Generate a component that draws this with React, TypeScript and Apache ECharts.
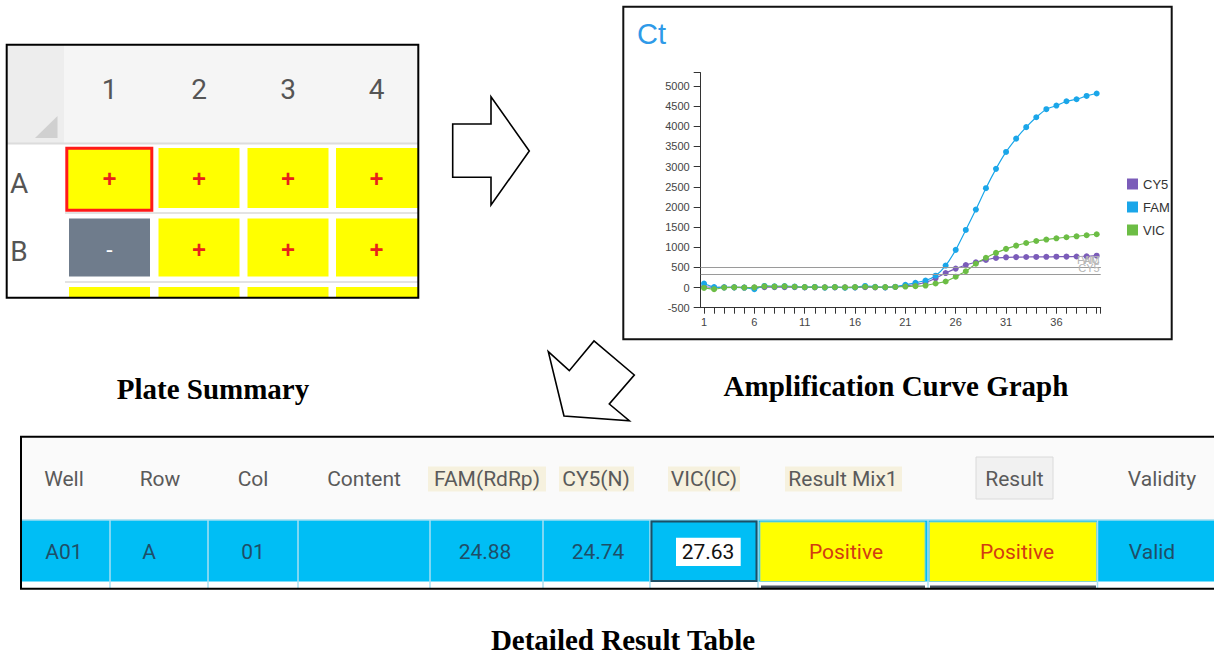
import React, { useEffect, useRef } from "react";
import * as echarts from "echarts";

// ---------- data ----------
const cycles = [1, 2, 3, 4, 5, 6, 7, 8, 9, 10, 11, 12, 13, 14, 15, 16, 17, 18, 19, 20, 21, 22, 23, 24, 25, 26, 27, 28, 29, 30, 31, 32, 33, 34, 35, 36, 37, 38, 39, 40];
const cy5 = [20, 0, 5, 5, 0, 0, 10, 10, 10, 10, 5, 5, 5, 5, 5, 5, 10, 5, 5, 15, 40, 75, 125, 230, 360, 470, 560, 628, 685, 735, 750, 755, 758, 760, 762, 765, 768, 770, 775, 790];
const fam = [100, 10, 5, 5, 0, -40, 40, 30, 35, 25, 10, 15, 0, 10, -5, 5, 40, 20, 5, 20, 70, 118, 175, 295, 545, 935, 1430, 1935, 2465, 2945, 3365, 3695, 3980, 4225, 4425, 4515, 4622, 4672, 4755, 4815];
const vic = [-10, -40, 0, 5, 0, 5, 30, 25, 30, 20, 10, 10, 5, 10, 5, 10, 20, 10, 10, 15, 25, 35, 50, 100, 150, 270, 405, 590, 740, 860, 960, 1040, 1105, 1155, 1190, 1222, 1248, 1272, 1298, 1322];
const seriesNames = ["CY5", "FAM", "VIC"];
const seriesColors = ["#7b5cb9", "#1aa6e9", "#6cbd45"];
const thresholds = [320, 510, 510];
const xLabelValues = [1, 6, 11, 16, 21, 26, 31, 36];
const yLabelValues = [-500, 0, 500, 1000, 1500, 2000, 2500, 3000, 3500, 4000, 4500, 5000];

const plateCols = ["1", "2", "3", "4"];
const plateRows = ["A", "B", "C"];
const plateCalls = [
  ["+", "+", "+", "+"],
  ["-", "+", "+", "+"],
  ["+", "+", "+", "+"],
];

const tableHeaders = ["Well", "Row", "Col", "Content", "FAM(RdRp)", "CY5(N)", "VIC(IC)", "Result Mix1", "Result", "Validity"];
const tableRow = ["A01", "A", "01", "", "24.88", "24.74", "27.63", "Positive", "Positive", "Valid"];
const captions = ["Plate Summary", "Amplification Curve Graph", "Detailed Result Table"];
const chartTitle = "Ct";

// ---------- helpers ----------
const txt = (x: number, y: number, text: string, o: any = {}) => ({
  type: "text",
  x,
  y,
  z: o.z ?? 20,
  silent: true,
  style: {
    text,
    fill: o.fill ?? "#333",
    fontSize: o.fontSize ?? 14,
    fontFamily: o.fontFamily ?? "Roboto",
    fontWeight: o.fontWeight ?? "normal",
    align: o.align ?? "center",
    textAlign: o.align ?? "center",
    verticalAlign: "middle",
    textVerticalAlign: "middle",
  },
});
const rect = (x: number, y: number, w: number, h: number, style: any, z = 5) => ({
  type: "rect",
  z,
  silent: true,
  shape: { x, y, width: w, height: h },
  style,
});
const line = (x1: number, y1: number, x2: number, y2: number, stroke: string, lw = 1, z = 6) => ({
  type: "line",
  z,
  silent: true,
  shape: { x1, y1, x2, y2 },
  style: { stroke, lineWidth: lw },
});

function buildGraphics() {
  const els: any[] = [];

  // ----- plate summary -----
  els.push(rect(7, 45, 411, 98, { fill: "#f5f5f5" }, 1));
  els.push(rect(7, 45, 57, 98, { fill: "#ededed" }, 2));
  els.push({ type: "polygon", z: 3, silent: true, shape: { points: [[35, 138], [57.5, 138], [57.5, 116]] }, style: { fill: "#d0d0d0" } });
  els.push(line(7, 143.5, 418, 143.5, "#dcdcdc", 2, 3));
  const colX = [69, 158.5, 247.5, 336];
  const cellW = 81;
  const rowY = [148, 218.5, 287];
  const rowH = [60, 58, 10];
  plateCols.forEach((c, i) => {
    els.push(txt(colX[i] + cellW / 2, 89.5, c, { fontSize: 28, fill: "#555" }));
  });
  plateRows.forEach((r, j) => {
    if (j < 2) els.push(txt(19, [183.5, 251][j], r, { fontSize: 28, fill: "#555" }));
    plateCalls[j].forEach((call, i) => {
      const fill = call === "-" ? "#6f7c8c" : "#ffff00";
      const w = i === 3 ? 418 - colX[i] : cellW;
      if (j === 0 && i === 0) {
        els.push(rect(66.8, 148.2, 85, 62, { fill, stroke: "#ff1a1a", lineWidth: 3 }, 6));
      } else {
        els.push(rect(colX[i], rowY[j], w, rowH[j], { fill }, 5));
      }
      if (j < 2) {
        els.push(txt(colX[i] + cellW / 2, [178.5, 249][j], call, {
          fontSize: call === "-" ? 22 : 24,
          fontWeight: call === "-" ? "normal" : "bold",
          fill: call === "-" ? "#ffffff" : "#e8211b",
          fontFamily: "Liberation Sans",
        }));
      }
    });
  });
  els.push(line(65, 213, 418, 213, "#e3e3e3", 2, 4));
  els.push(line(65, 282, 418, 282, "#e3e3e3", 2, 4));
  els.push(rect(6.7, 44.7, 411.6, 253, { fill: "none", stroke: "#000", lineWidth: 2 }, 30));

  // ----- arrows -----
  els.push({
    type: "polygon", z: 10, silent: true,
    shape: { points: [[452.7, 124], [491, 124], [491, 96.7], [529.3, 151], [491, 205], [491, 177.3], [452.7, 177.3]] },
    style: { fill: "#fff", stroke: "#000", lineWidth: 1.6 },
  });
  els.push({
    type: "polygon", z: 10, silent: true,
    shape: { points: [[564, 416], [548.3, 351.7], [569.3, 370.7], [594, 341], [634.3, 375], [609.3, 404], [629.3, 420.7]] },
    style: { fill: "#fff", stroke: "#000", lineWidth: 1.6 },
  });

  // ----- chart frame and title -----
  els.push(rect(623.3, 6.7, 548.4, 332.6, { fill: "none", stroke: "#111", lineWidth: 2 }, 30));
  els.push(txt(637, 34, chartTitle, { fontSize: 29, fill: "#2f9ae8", fontFamily: "Liberation Sans", align: "left" }));

  // ----- captions -----
  const capPos = [[213, 389], [896, 386], [623, 640]];
  captions.forEach((c, i) => {
    els.push(txt(capPos[i][0], capPos[i][1], c, { fontSize: 29, fontWeight: "bold", fill: "#000", fontFamily: "Liberation Serif" }));
  });

  // ----- detailed result table -----
  els.push(rect(22, 437.5, 1194, 82, { fill: "#fafafa" }, 1));
  els.push(rect(22, 520, 1194, 61.5, { fill: "#00bef5" }, 2));
  els.push(line(22, 520, 1216, 520, "#9fdcf0", 1.5, 3));
  const dividers = [110, 208, 298, 430, 543, 650, 758, 928, 1097.5];
  dividers.forEach((x) => els.push(line(x, 520, x, 588, "#a9dff2", 1.5, 4)));
  // highlighted header backgrounds
  const hl = [[428, 546], [559, 634], [668, 740], [785, 902]];
  hl.forEach(([a, b]) => els.push(rect(a, 466.5, b - a, 25, { fill: "#f6f1de" }, 3)));
  // Result button
  els.push(rect(976, 457, 77, 42, { fill: "#f1f1f1", stroke: "#dadada", lineWidth: 1 }, 3));
  const headX = [64, 160, 253, 364, 487, 596, 704, 843, 1014.5, 1162];
  tableHeaders.forEach((h, i) => els.push(txt(headX[i], 478.5, h, { fontSize: 21, fill: "#5a5a5a" })));
  // special cells
  els.push(rect(651.5, 521.5, 105, 59.5, { fill: "#00bef5", stroke: "#1d4f66", lineWidth: 2 }, 6));
  els.push(rect(676, 537.7, 64.7, 28.3, { fill: "#ffffff" }, 7));
  els.push(rect(760, 522, 165, 59.5, { fill: "#ffff00", stroke: "#8ad8c8", lineWidth: 1 }, 6));
  els.push(rect(929.5, 522, 167, 59.5, { fill: "#ffff00", stroke: "#8ad8c8", lineWidth: 1 }, 6));
  els.push(rect(761, 585.5, 164, 3, { fill: "#4a5560" }, 6));
  els.push(rect(930, 585.5, 166, 3, { fill: "#4a5560" }, 6));
  const valX = [64, 149, 253, 364, 485, 598, 708, 846, 1017, 1152];
  tableRow.forEach((v, i) => {
    if (!v) return;
    const fill = i >= 7 && i <= 8 ? "#d23c12" : i === 6 ? "#111" : "#1f4e68";
    els.push(txt(valX[i], 552, v, { fontSize: 21, fill }));
  });
  els.push(rect(21, 436.7, 1200, 152, { fill: "none", stroke: "#000", lineWidth: 2 }, 30));

  return els;
}

export default function App() {
  const ref = useRef<HTMLDivElement>(null);
  useEffect(() => {
    if (!ref.current) return;
    const chart = echarts.init(ref.current, undefined, { renderer: "svg" });
    const seriesData = [cy5, fam, vic];
    chart.setOption({
      animation: false,
      backgroundColor: "#ffffff",
      grid: { left: 700.7, top: 72.7, width: 400, height: 235, containLabel: false, outerBoundsMode: "none" },
      legend: {
        data: seriesNames,
        orient: "vertical",
        left: 1122,
        top: 172.5,
        itemWidth: 11,
        itemHeight: 11,
        itemGap: 10,
        icon: "rect",
        selectedMode: false,
        textStyle: { fontSize: 13, color: "#333", fontFamily: "Liberation Sans" },
      },
      xAxis: {
        type: "value",
        min: 0.67,
        max: 40.4,
        axisLine: { show: true, onZero: false, lineStyle: { color: "#333", width: 1 } },
        axisTick: { show: true, length: 6, customValues: [...cycles, 40.4], lineStyle: { color: "#333" } },
        axisLabel: { customValues: xLabelValues, fontSize: 11, color: "#444", margin: 9, fontFamily: "Liberation Sans", formatter: (v: number) => String(v) },
        splitLine: { show: false },
      },
      yAxis: {
        type: "value",
        min: -500,
        max: 5331,
        axisLine: { show: true, lineStyle: { color: "#333", width: 1 } },
        axisTick: { show: true, length: 7, customValues: [...yLabelValues, 5331], lineStyle: { color: "#333" } },
        axisLabel: { customValues: yLabelValues, fontSize: 11, color: "#444", margin: 11, fontFamily: "Liberation Sans", formatter: (v: number) => String(v) },
        splitLine: { show: false },
      },
      series: seriesNames.map((name, k) => ({
        name,
        type: "line",
        data: cycles.map((c, i) => [c, seriesData[k][i]]),
        symbol: "circle",
        symbolSize: 6,
        smooth: 0.2,
        color: seriesColors[k],
        lineStyle: { width: 1.2, color: seriesColors[k] },
        itemStyle: { color: seriesColors[k] },
        markLine: {
          silent: true,
          symbol: ["none", "none"],
          lineStyle: { color: "#9a9a9a", width: 1, type: "solid" },
          label: { show: true, position: "insideEndTop", formatter: "{b}", color: "#b5b5b5", fontSize: 11, fontFamily: "Liberation Sans", distance: 1 },
          data: [{ yAxis: thresholds[k], name }],
        },
      })),
      graphic: { elements: buildGraphics() },
    });
    return () => chart.dispose();
  }, []);
  return <div ref={ref} style={{ position: "fixed", left: 0, top: 0, width: 1214, height: 656 }} />;
}
